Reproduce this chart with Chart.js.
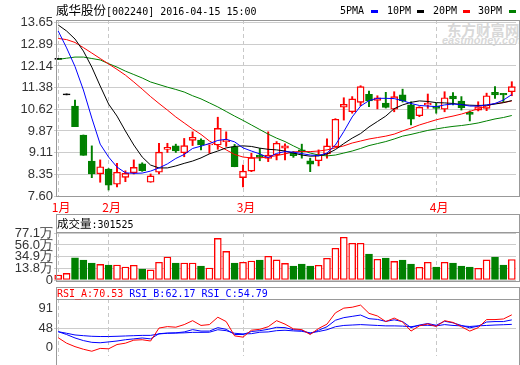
<!DOCTYPE html>
<html>
<head>
<meta charset="utf-8">
<script src="https://cdn.jsdelivr.net/npm/chart.js@4.4.1/dist/chart.umd.min.js"></script>
<style>
  body { margin: 0; background: #fff; }
  #wrap { position: relative; width: 520px; height: 365px; overflow: hidden; background: #fff; }
  canvas { position: absolute; left: 0; }
  .frame { position: absolute; box-sizing: border-box; border: 1px solid #999; pointer-events: none; }
  .sep { position: absolute; left: 56px; width: 464px; height: 1px; background: #999; }
  .txt { position: absolute; white-space: nowrap; }
  .mono { font-family: 'DejaVu Sans Mono', monospace; font-size: 10px; }
  .cjk { font-family: 'Noto Sans CJK SC', sans-serif; }
  .sw { position: absolute; width: 7px; height: 3px; top: 10px; }
</style>
</head>
<body>
<div id="wrap">
  <div class="txt" style="left:447px;top:19px;font:bold 14.5px 'Noto Sans CJK SC';color:#d8d8d8;">东方财富网</div>
  <div class="txt" style="left:442px;top:34px;font:bold italic 11px 'Liberation Sans';color:#d8d8d8;">eastmoney.com</div>

  <canvas id="cPrice" width="520" height="214" style="top:0"></canvas>
  <canvas id="cVol" width="520" height="70" style="top:220px"></canvas>
  <canvas id="cRsi" width="520" height="75" style="top:290px"></canvas>

  <div class="txt" style="left:56px;top:2px;line-height:15px;color:#000;"><span class="cjk" style="font-size:12.5px">威华股份</span><span class="mono">[002240] 2016-04-15 15:00</span></div>

  <div class="txt mono" style="left:340px;top:4px;line-height:13px">5PMA</div>
  <div class="sw" style="left:371px;background:#0000ff"></div>
  <div class="txt mono" style="left:387px;top:4px;line-height:13px">10PM</div>
  <div class="sw" style="left:417px;background:#000000"></div>
  <div class="txt mono" style="left:433px;top:4px;line-height:13px">20PM</div>
  <div class="sw" style="left:463px;background:#ff0000"></div>
  <div class="txt mono" style="left:478px;top:4px;line-height:13px">30PM</div>
  <div class="sw" style="left:509px;background:#008000"></div>

  <div class="frame" style="left:56px;top:20px;width:464px;height:177px"></div>

  <div class="frame" style="left:56px;top:214px;width:464px;height:68px"></div>
  <div class="sep" style="top:232px"></div>
  <div class="txt" id="volHead" style="left:57px;top:215px;line-height:16px"></div>

  <div class="frame" style="left:56px;top:287px;width:464px;height:100px"></div>
  <div class="sep" style="top:299px"></div>
  <div class="txt mono" id="rsiHead" style="left:57px;top:287px;line-height:13px"></div>
</div>
<script>
// trading days shown (2016)
const dates = [
  '2016-01-22', '2016-01-25', '2016-01-26', '2016-01-27', '2016-01-28', '2016-01-29',
  '2016-02-01', '2016-02-02', '2016-02-03', '2016-02-04', '2016-02-05', '2016-02-15',
  '2016-02-16', '2016-02-17', '2016-02-18', '2016-02-19', '2016-02-22', '2016-02-23',
  '2016-02-24', '2016-02-25', '2016-02-26', '2016-02-29',
  '2016-03-01', '2016-03-02', '2016-03-03', '2016-03-04', '2016-03-07', '2016-03-08',
  '2016-03-09', '2016-03-10', '2016-03-11', '2016-03-14', '2016-03-15', '2016-03-16',
  '2016-03-17', '2016-03-18', '2016-03-21', '2016-03-22', '2016-03-23', '2016-03-24',
  '2016-03-25', '2016-03-28', '2016-03-29', '2016-03-30', '2016-03-31',
  '2016-04-01', '2016-04-05', '2016-04-06', '2016-04-07', '2016-04-08', '2016-04-11',
  '2016-04-12', '2016-04-13', '2016-04-14', '2016-04-15'
];

const open = [12.37, 11.13, 10.74, 9.73, 8.82, 8.37, 8.54, 8.01, 8.25, 8.41, 8.72, 8.08, 8.43, 9.23,
  9.35, 9.11, 9.54, 9.55, 9.38, 9.38, 9.50, 9.32, 8.24, 8.47, 9.03, 8.91, 9.03, 9.27, 9.09, 9.21,
  8.83, 8.83, 9.07, 9.32, 10.70, 10.54, 10.87, 11.15, 10.94, 10.84, 10.63, 11.13, 10.78, 10.40,
  10.78, 10.74, 10.63, 11.09, 10.91, 10.52, 10.60, 10.66, 11.22, 11.18, 11.24];
const high = [12.37, 11.13, 10.95, 9.73, 9.35, 8.86, 8.56, 8.74, 8.48, 8.86, 8.76, 8.37, 9.44, 9.44,
  9.41, 9.61, 9.84, 9.60, 9.44, 10.35, 9.84, 9.40, 8.68, 9.09, 9.26, 9.84, 9.50, 9.42, 9.15, 9.41,
  8.92, 9.21, 9.60, 10.30, 11.03, 11.07, 11.45, 11.26, 11.10, 11.22, 11.24, 11.33, 10.89, 10.72,
  11.16, 10.84, 11.24, 11.21, 11.07, 10.57, 10.89, 11.19, 11.42, 11.18, 11.59];
const low = [12.37, 11.13, 10.02, 9.02, 8.24, 8.08, 7.81, 7.92, 8.10, 8.37, 8.46, 8.08, 8.37, 9.12,
  9.12, 8.97, 9.36, 9.21, 9.09, 9.23, 9.33, 8.62, 7.92, 8.45, 8.83, 8.80, 8.86, 8.86, 8.95, 8.92,
  8.45, 8.65, 8.92, 9.30, 10.25, 10.49, 10.75, 10.72, 10.64, 10.67, 10.54, 10.88, 10.08, 10.37,
  10.66, 10.49, 10.54, 10.78, 10.60, 10.22, 10.57, 10.58, 11.01, 10.89, 11.10];
const close = [12.37, 11.13, 10.02, 9.02, 8.37, 8.62, 7.98, 8.43, 8.39, 8.60, 8.48, 8.30, 9.13, 9.30,
  9.17, 9.36, 9.65, 9.38, 9.40, 9.96, 9.55, 8.62, 8.47, 8.94, 8.95, 9.03, 9.44, 9.35, 9.01, 9.15,
  8.71, 9.05, 9.35, 10.28, 10.80, 10.99, 11.42, 10.92, 11.03, 10.69, 11.07, 10.93, 10.28, 10.70,
  10.84, 10.66, 11.03, 10.99, 10.68, 10.45, 10.72, 11.10, 11.13, 11.13, 11.42];

const ma5 = [13.36, 12.77, 12.12, 11.30, 10.32, 9.41, 8.96, 8.61, 8.41, 8.39, 8.40, 8.47, 8.58, 8.72,
  8.91, 9.05, 9.26, 9.34, 9.43, 9.54, 9.58, 9.49, 9.28, 9.17, 9.07, 8.94, 9.09, 9.15, 9.13, 9.08,
  9.03, 9.01, 9.10, 9.38, 9.85, 10.36, 10.74, 10.93, 11.01, 11.01, 11.00, 10.93, 10.83, 10.76,
  10.74, 10.72, 10.78, 10.81, 10.79, 10.74, 10.74, 10.78, 10.83, 10.95, 11.14];
const ma10 = [13.57, 13.36, 13.08, 12.66, 12.10, 11.44, 10.81, 10.39, 9.87, 9.38, 8.96, 8.68, 8.58,
  8.58, 8.65, 8.74, 8.82, 8.93, 9.07, 9.17, 9.28, 9.33, 9.35, 9.33, 9.27, 9.23, 9.21, 9.17, 9.10,
  9.03, 8.99, 9.00, 9.07, 9.22, 9.43, 9.62, 9.78, 10.01, 10.20, 10.39, 10.65, 10.78, 10.87, 10.92,
  10.90, 10.86, 10.85, 10.83, 10.79, 10.77, 10.76, 10.77, 10.81, 10.86, 10.93];
const ma20 = [13.10, 13.06, 12.96, 12.78, 12.59, 12.40, 12.21, 12.02, 11.82, 11.58, 11.33, 11.07,
  10.83, 10.60, 10.36, 10.15, 9.94, 9.75, 9.52, 9.36, 9.21, 9.05, 8.96, 8.93, 8.93, 8.96, 9.01,
  9.07, 9.14, 9.15, 9.15, 9.17, 9.21, 9.28, 9.35, 9.45, 9.52, 9.59, 9.64, 9.69, 9.76, 9.87, 9.97,
  10.08, 10.17, 10.26, 10.33, 10.39, 10.46, 10.55, 10.65, 10.74, 10.83, 10.86, 10.92];
const ma30 = [12.37, 12.41, 12.45, 12.45, 12.40, 12.35, 12.22, 12.10, 11.96, 11.84, 11.72, 11.58,
  11.49, 11.40, 11.32, 11.23, 11.10, 10.99, 10.85, 10.71, 10.55, 10.39, 10.24, 10.08, 9.92, 9.76,
  9.62, 9.50, 9.35, 9.21, 9.10, 9.03, 9.00, 9.03, 9.10, 9.17, 9.26, 9.36, 9.43, 9.50, 9.59, 9.69,
  9.75, 9.82, 9.89, 9.94, 9.99, 10.03, 10.06, 10.10, 10.15, 10.22, 10.29, 10.34, 10.41];

// volume in 万手
const volume = [2.8, 5.8, 33.4, 29.4, 24.0, 21.6, 20.5, 20.5, 17.0, 20.0, 13.4, 12.0, 25.3, 34.7,
  24.0, 24.0, 24.0, 18.8, 15.2, 67.7, 44.7, 24.0, 25.3, 27.6, 29.4, 35.9, 29.7, 23.5, 18.8, 22.3,
  18.8, 20.0, 32.4, 50.1, 69.5, 58.9, 58.9, 40.0, 30.6, 32.9, 27.0, 29.4, 22.3, 16.5, 25.3, 17.0,
  25.3, 24.0, 18.8, 17.0, 14.7, 29.7, 34.7, 20.5, 30.15];
const lastVolume = 301525;

const rsiA = [32.7, 23.7, 18.0, 13.7, 10.4, 15.1, 14.4, 21.5, 23.7, 28.7, 29.4, 27.3, 48.7, 51.1,
  50.1, 54.4, 60.9, 53.0, 54.4, 66.6, 59.4, 35.8, 33.7, 45.1, 46.6, 50.9, 60.9, 55.2, 47.3, 46.1,
  38.0, 48.0, 55.2, 73.8, 81.6, 83.1, 86.6, 73.0, 68.7, 59.4, 65.2, 58.7, 43.7, 52.3, 55.6, 51.3,
  60.9, 58.0, 50.9, 43.7, 49.4, 62.7, 62.7, 63.7, 70.53];
const rsiB = [42.7, 38.0, 32.3, 28.0, 25.1, 24.4, 25.8, 27.3, 29.4, 30.8, 32.3, 30.8, 39.4, 40.4,
  40.8, 42.3, 46.1, 43.7, 43.7, 49.4, 46.6, 38.0, 38.0, 43.0, 44.4, 46.6, 49.9, 49.4, 45.9, 45.1,
  39.4, 45.1, 50.9, 61.6, 65.9, 68.0, 70.2, 64.2, 63.0, 59.7, 62.3, 59.4, 49.4, 53.7, 56.2, 53.3,
  59.9, 57.3, 53.0, 49.0, 51.9, 58.7, 59.4, 59.4, 62.17];
const rsiC = [42.7, 40.1, 37.3, 36.1, 35.1, 34.7, 34.7, 35.1, 35.6, 36.1, 36.6, 36.6, 39.0, 40.1,
  40.4, 40.8, 41.6, 41.6, 41.8, 45.9, 44.4, 40.1, 39.0, 39.4, 41.8, 42.3, 44.4, 45.1, 44.0, 43.3,
  40.8, 43.0, 45.9, 50.9, 53.0, 53.7, 54.4, 53.7, 53.0, 52.3, 52.3, 51.9, 50.9, 53.0, 53.3, 52.3,
  54.4, 53.0, 52.3, 51.3, 52.3, 53.0, 53.7, 54.2, 54.79];

const priceTicks = [7.60, 8.35, 9.11, 9.87, 10.62, 11.38, 12.14, 12.89, 13.65];
const volTicks = [13.8, 34.9, 56.0, 77.1];
const rsiTickLabels = ['0', '48', '91'];

const RED = '#ff0000', GREEN = '#008000', BLUE = '#0000ff', BLACK = '#000000';
const GRID = '#cccccc', NONE = 'rgba(0,0,0,0)';

const dir = close.map((c, i) => Math.sign(Math.round((c - open[i]) * 100)));
const lineColor = dir.map(d => d > 0 ? RED : d < 0 ? GREEN : BLACK);
const bodyFill = dir.map(d => d > 0 ? '#ffffff' : d < 0 ? GREEN : BLACK);

const monthStart = dates.map((d, i) => i === 0 || d.slice(5, 7) !== dates[i - 1].slice(5, 7));

document.getElementById('volHead').innerHTML =
  '<span class="cjk" style="font-size:11.5px">成交量</span><span class="mono">:' + lastVolume + '</span>';
const last = close.length - 1;
document.getElementById('rsiHead').innerHTML =
  '<span style="color:' + RED + '">RSI_A:' + rsiA[last].toFixed(2) + '</span> ' +
  '<span style="color:' + BLUE + '">RSI_B:' + rsiB[last].toFixed(2) + '</span> ' +
  '<span style="color:' + BLUE + '">RSI_C:' + rsiC[last].toFixed(2) + '</span>';

const axisFont = { family: "'Liberation Sans'", size: 13 };

function xAxis(showLabels) {
  return {
    type: 'category',
    offset: true,
    grid: { offset: false, drawTicks: false, color: ctx => monthStart[ctx.index] ? '#c8c8c8' : NONE },
    border: { display: false, dash: [4, 3] },
    ticks: showLabels ? {
      autoSkip: false, maxRotation: 0, minRotation: 0, padding: 4, labelOffset: 3,
      color: RED, font: { family: "'Noto Sans CJK SC'", size: 12 },
      callback: (v, i) => monthStart[i] ? parseInt(dates[i].slice(5, 7), 10) + '月' : ''
    } : { display: false },
    afterFit: s => { s.height = showLabels ? 18 : 0; }
  };
}

function yBase(extra) {
  return Object.assign({
    afterFit: s => { s.width = 54; },
    border: { display: false },
  }, extra);
}

const common = {
  responsive: false,
  animation: false,
  events: [],
  plugins: { legend: { display: false }, tooltip: { enabled: false } }
};

const maLine = (data, color) => ({
  type: 'line', data, borderColor: color, borderWidth: 1, pointRadius: 0, tension: 0, order: 0
});

new Chart(document.getElementById('cPrice'), {
  type: 'bar',
  data: {
    labels: dates,
    datasets: [
      maLine(ma5, BLUE), maLine(ma10, BLACK), maLine(ma20, RED), maLine(ma30, GREEN),
      {
        data: open.map((o, i) => [o, close[i]]),
        backgroundColor: bodyFill, borderColor: lineColor, borderWidth: 1.4, borderSkipped: false,
        barThickness: 7, minBarLength: 1, grouped: false, order: 1
      },
      {
        data: low.map((l, i) => [l, high[i]]),
        backgroundColor: lineColor, borderWidth: 0, barThickness: 1.3, minBarLength: 1,
        grouped: false, order: 2
      }
    ]
  },
  options: Object.assign({}, common, {
    layout: { padding: { top: 20, right: 4, bottom: 0, left: 0 } },
    scales: {
      x: xAxis(true),
      y: yBase({
        min: 7.60, max: 13.744,
        afterBuildTicks: s => { s.ticks = priceTicks.map(v => ({ value: v })); },
        grid: { color: GRID, drawTicks: false },
        ticks: { autoSkip: false, padding: 1, color: '#333', font: axisFont, callback: v => v.toFixed(2) }
      })
    }
  })
});

const volMin = -6;
new Chart(document.getElementById('cVol'), {
  type: 'bar',
  data: {
    labels: dates,
    datasets: [{
      data: volume, base: volMin,
      backgroundColor: dir.map(d => d >= 0 ? '#ffffff' : GREEN),
      borderColor: dir.map(d => d >= 0 ? RED : GREEN),
      borderWidth: 1.4, borderSkipped: false, barThickness: 7
    }]
  },
  options: Object.assign({}, common, {
    layout: { padding: { top: 13, right: 4, bottom: 10, left: 0 } },
    scales: {
      x: xAxis(false),
      y: yBase({
        min: volMin, max: volTicks[volTicks.length - 1],
        afterBuildTicks: s => { s.ticks = [volMin].concat(volTicks).map(v => ({ value: v })); },
        grid: { color: GRID, drawTicks: false },
        ticks: {
          autoSkip: false, padding: 1, color: '#333', font: axisFont,
          callback: v => v <= volMin ? '0' : v.toFixed(1) + '万'
        }
      })
    }
  })
});

const rsiLine = (data, color) => ({
  data, borderColor: color, borderWidth: 1, pointRadius: 0, tension: 0
});
new Chart(document.getElementById('cRsi'), {
  type: 'line',
  data: {
    labels: dates,
    datasets: [rsiLine(rsiA, RED), rsiLine(rsiB, BLUE), rsiLine(rsiC, BLUE)]
  },
  options: Object.assign({}, common, {
    layout: { padding: { top: 9, right: 4, bottom: 0, left: 0 } },
    scales: {
      x: xAxis(false),
      y: yBase({
        min: 2.2, max: 96.7,
        // label rows sit evenly spaced around the 48 line, as in the source software
        afterBuildTicks: s => { s.ticks = [16.5, 48, 81.9].map(v => ({ value: v })); },
        grid: { color: ctx => ctx.index === 1 ? GRID : NONE, drawTicks: false },
        ticks: { autoSkip: false, padding: 1, color: '#333', font: axisFont, callback: (v, i) => rsiTickLabels[i] }
      })
    }
  })
});
</script>
</body>
</html>
